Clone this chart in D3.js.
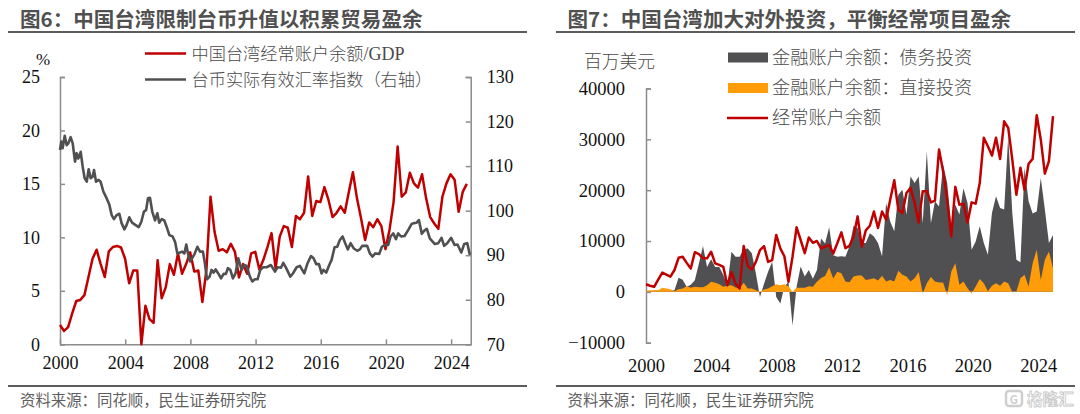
<!DOCTYPE html>
<html><head><meta charset="utf-8">
<script src="https://cdn.jsdelivr.net/npm/d3@7"></script>
<style>
html,body{margin:0;padding:0;background:#fff;}
svg{display:block;}
.num{font-family:"Liberation Serif",serif;fill:#111;}
.cn{font-family:"Noto Sans CJK SC",sans-serif;fill:#4a4a4a;font-weight:300;}
.title{font-family:"Noto Sans CJK SC",sans-serif;font-weight:700;fill:#505050;font-size:20.55px;}
.src{font-family:"Noto Sans CJK SC",sans-serif;fill:#5f5f5f;font-size:15.4px;}
</style></head><body>
<svg id="c" width="1080" height="414"></svg>
<script>
const yearTicks=[2000,2004,2008,2012,2016,2020,2024];
const leftTicks=[0,5,10,15,20,25];
const rightTicks=[70,80,90,100,110,120,130];
const flowTicks=[-10000,0,10000,20000,30000,40000];

const gdpShare=[1.8,1.25,1.6,2.9,4.05,4.15,4.6,6.3,8,8.85,7.5,6.3,8.7,9.1,9.2,9.05,8,5.7,6.9,6.9,0,3.6,2.35,2,7.85,4.3,5.35,7.5,6.5,8.5,6.6,7.5,8.6,6.8,6.9,3.95,7,13.8,10.5,8.75,8.9,8.6,9.4,8.65,6.25,7.5,6.6,8.5,8.65,7,7.9,9.1,10.4,7.1,10.05,11.05,10.9,9.1,12,11.7,12.3,15.7,12,13.4,13.3,14.7,13.5,11.9,12.3,12.9,12.3,14.25,16.1,13.65,11.8,9.75,11.4,10.95,11.7,11.05,8.9,10.7,13.3,18.5,13.8,14.2,16.05,15.05,14.65,15.9,13.65,11.9,11.3,10.8,13.8,15.05,15.9,15.4,12.4,14.25,15];

const rateYears=[2000,2000.08,2000.16,2000.29,2000.41,2000.51,2000.65,2000.78,2000.92,2001.02,2001.12,2001.27,2001.39,2001.51,2001.64,2001.76,2001.88,2002,2002.09,2002.21,2002.37,2002.49,2002.66,2002.82,2003.03,2003.17,2003.31,2003.48,2003.64,2003.78,2003.95,2004.09,2004.25,2004.42,2004.62,2004.83,2004.99,2005.15,2005.28,2005.4,2005.52,2005.66,2005.83,2005.97,2006.09,2006.24,2006.4,2006.54,2006.71,2006.91,2007.06,2007.2,2007.36,2007.5,2007.63,2007.75,2007.85,2007.98,2008.1,2008.26,2008.43,2008.59,2008.77,2008.89,2009.02,2009.18,2009.3,2009.43,2009.55,2009.71,2009.88,2010.04,2010.18,2010.3,2010.45,2010.61,2010.77,2010.94,2011.14,2011.31,2011.45,2011.65,2011.8,2011.96,2012.12,2012.29,2012.47,2012.68,2012.94,2013.19,2013.35,2013.56,2013.7,2013.88,2014.13,2014.29,2014.52,2014.72,2014.99,2015.19,2015.4,2015.56,2015.72,2015.89,2016.05,2016.17,2016.34,2016.52,2016.66,2016.85,2017.01,2017.17,2017.34,2017.5,2017.66,2017.83,2018.03,2018.24,2018.4,2018.54,2018.85,2019.01,2019.18,2019.34,2019.59,2019.75,2019.91,2020.14,2020.28,2020.45,2020.61,2020.75,2020.92,2021.14,2021.37,2021.57,2021.71,2021.88,2022.02,2022.2,2022.35,2022.51,2022.69,2023,2023.21,2023.41,2023.57,2023.76,2024,2024.21,2024.39,2024.62,2024.8,2024.99,2025.15];
const rateValues=[113.6,115.5,114,116.8,114.7,115.1,116.5,115.1,111,112.9,111.7,113.2,109.9,107.3,106.5,109.3,107.3,107.6,109.1,106.5,106.9,106.5,104.3,103.1,101.3,99,98.1,99,99.3,97.2,95.8,96.8,98.5,97.3,96.8,96.3,97.5,99.8,100.1,102.8,102.9,99.8,97.8,99.4,97.3,98.1,97.8,96.4,94.5,94.2,93,90.4,90.6,90.8,90.4,92.4,90.4,88.6,89.3,90.3,91.9,90.8,90.8,88.2,84.6,85.2,86.7,86.1,86.8,85.9,84.8,85.8,85.8,87.1,86.7,84.8,85.9,89.3,86.7,87.8,87.6,85.2,84.1,84.6,84.6,86.7,87.3,87.3,87.8,86.3,87.3,87.2,88.3,87.1,85.2,85.9,87.3,87.6,85.9,88.2,89.8,89.3,88,88,85.9,86.7,86.1,87.8,88.9,91.8,91.9,93.4,94.2,92.7,91.3,92.7,91.5,91,91.3,92.1,92.1,90.4,89.7,90.4,90.3,91.9,92.3,92.3,94.2,94.9,93.6,94.9,94.2,94.3,95.7,97,97.2,97.3,97.9,94.8,95.5,95.9,93.8,92.5,92.7,93.9,92.1,92.7,93.9,92.3,92.4,90.6,92.5,92.7,90.05];

const currentAccount=[1500,1200,1000,2400,3800,3400,3000,4300,6700,6900,5700,4600,7800,7400,6600,6600,7900,5600,5300,4900,1300,3900,1600,650,9000,5100,4400,5900,8200,9000,5900,6250,11200,8550,7000,2000,6900,12700,10200,7600,10700,9650,10000,8550,8900,9200,7550,9550,11700,8600,9050,10900,14850,8900,12100,13000,15800,12550,15800,14200,18100,21950,16150,15500,19450,20450,17500,13650,19800,19800,17600,17950,28000,23700,18150,10900,20650,17150,17350,13650,17600,17350,21400,30300,28650,26800,30300,26150,33550,32250,26000,19100,24400,20100,25200,26150,34750,29950,23250,25700,34550];
const debtInvest=[100,100,200,200,400,300,200,300,2800,2400,1000,1400,2300,5600,9000,4900,6400,4900,4900,3300,1300,7900,6900,6900,8400,8550,7600,3600,-1000,1600,3950,5900,-1000,-2300,1000,2000,-6600,1000,5000,3000,4300,2600,4300,10500,9500,12700,7200,6900,7000,6900,8950,13000,12550,9600,9600,11550,10900,9600,7000,17500,13850,11900,19100,20100,15200,22700,21400,22700,13500,27650,13500,17800,16800,25000,21400,12900,17150,15200,20400,17500,8300,9900,12900,9600,7300,15500,18800,16500,16200,30600,15500,6300,5800,24400,17800,15400,15800,22400,16200,9600,11200];
const directInvest=[200,300,300,300,800,650,500,130,500,650,1100,800,1000,900,900,1300,2000,1800,1500,1000,1200,1300,850,650,1800,650,650,300,0,450,650,1100,1500,1300,1500,1100,0,800,800,800,1100,1000,2000,2750,3100,4800,2650,3950,3680,2050,1900,3000,3200,3200,2350,2500,2700,2250,3150,2050,2350,2050,4150,3350,3000,2050,2700,3900,-300,1700,2900,2050,1850,1850,-600,4000,5650,1400,2050,700,-300,1050,2550,1700,100,1200,1700,1200,2050,1700,-100,0,2700,3350,1050,5650,8300,2350,6300,7950,4600];

const RED="#c00000",GRAY="#505052",ORANGE="#ff9c0a",AXIS="#8c8c8c";
const svg=d3.select("#c");

function styleAxis(g,size){
  g.selectAll("path").attr("stroke",AXIS).attr("stroke-width",1.5).attr("fill","none");
  g.selectAll("line").attr("stroke",AXIS).attr("stroke-width",1.5);
  g.selectAll("text").attr("class","num").attr("font-size",size).attr("font-family",null);
}
function frame(x0,x1,titleX,title){
  svg.append("text").attr("class","title").attr("x",titleX).attr("y",27).text(title);
  svg.append("line").attr("x1",x0).attr("x2",x1).attr("y1",32).attr("y2",32).attr("stroke","#5c5c5c").attr("stroke-width",2);
  svg.append("line").attr("x1",x0).attr("x2",x1).attr("y1",386).attr("y2",386).attr("stroke","#5c5c5c").attr("stroke-width",2);
  svg.append("text").attr("class","src").attr("x",titleX).attr("y",406).text("资料来源：同花顺，民生证券研究院");
}
frame(8,527,20,"图6：中国台湾限制台币升值以积累贸易盈余");
frame(556,1075,567.5,"图7：中国台湾加大对外投资，平衡经常项目盈余");

/* left chart */
const yearA=d3.scaleLinear().domain([2000,2025.2]).range([60,470.7]);
const quarterA=d3.scaleLinear().domain([0,100]).range([60,466.8]);
const yL=d3.scaleLinear().domain([0,25]).range([344.3,77]);
const yR=d3.scaleLinear().domain([70,130]).range([344.3,77]);

const axL=svg.append("g").attr("transform","translate(60,0)")
  .call(d3.axisLeft(yL).tickValues(leftTicks).tickSizeInner(-5).tickSizeOuter(-5).tickPadding(20).tickFormat(d3.format("d")));
styleAxis(axL,18);
const axR=svg.append("g").attr("transform","translate(470.7,0)")
  .call(d3.axisRight(yR).tickValues(rightTicks).tickSizeInner(-5).tickSizeOuter(-5).tickPadding(16).tickFormat(d3.format("d")));
styleAxis(axR,18);
const axB=svg.append("g").attr("transform","translate(0,344.3)")
  .call(d3.axisBottom(yearA).tickValues(yearTicks).tickSizeInner(-5).tickSizeOuter(0).tickPadding(12).tickFormat(d3.format("d")));
styleAxis(axB,18);

svg.append("path").datum(gdpShare).attr("fill","none").attr("stroke",RED).attr("stroke-width",2.5).attr("stroke-linejoin","round")
  .attr("d",d3.line().x((d,i)=>quarterA(i)).y(d=>yL(d)));
svg.append("path").datum(rateValues).attr("fill","none").attr("stroke",GRAY).attr("stroke-width",2.6).attr("stroke-linejoin","round")
  .attr("d",d3.line().x((d,i)=>yearA(rateYears[i])).y(d=>yR(d)));

svg.append("text").attr("class","num").attr("x",43).attr("y",65).attr("text-anchor","middle").attr("font-size",17).text("%");
const legL=[["中国台湾经常账户余额","/GDP",RED,53.5],["台币实际有效汇率指数（右轴）","",GRAY,79.5]];
legL.forEach(d=>{
  svg.append("line").attr("x1",145).attr("x2",186).attr("y1",d[3]).attr("y2",d[3]).attr("stroke",d[2]).attr("stroke-width",2.6);
  const t=svg.append("text").attr("class","cn").attr("x",191.5).attr("y",d[3]+6.2).attr("font-size",17.2);
  t.append("tspan").text(d[0]);
  if(d[1]) t.append("tspan").attr("font-family","Liberation Serif").attr("font-size",18).attr("font-weight",400).text(d[1]);
});

/* right chart */
const yearB=d3.scaleLinear().domain([2000,2025]).range([646,1054.5]);
const quarterB=d3.scaleLinear().domain([0,100]).range([646,1053]);
const yF=d3.scaleLinear().domain([-10000,40000]).range([342.7,88.5]);

const axF=svg.append("g").attr("transform","translate(646,0)")
  .call(d3.axisLeft(yF).tickValues(flowTicks).tickSizeInner(-5).tickSizeOuter(-5).tickPadding(21).tickFormat(d3.format("d")));
styleAxis(axF,18.5);
const axT=svg.append("g").attr("transform","translate(0,342.7)")
  .call(d3.axisBottom(yearB).tickValues(yearTicks).tickSize(0).tickPadding(16).tickFormat(d3.format("d")));
styleAxis(axT,18.5);
axT.select("path").remove();

const area=d3.area().x((d,i)=>quarterB(i)).y0(yF(0)).y1(d=>yF(d));
svg.append("path").datum(debtInvest).attr("fill",GRAY).attr("d",area);
svg.append("path").datum(directInvest).attr("fill",ORANGE).attr("d",area);
svg.append("path").datum(currentAccount).attr("fill","none").attr("stroke",RED).attr("stroke-width",2.5).attr("stroke-linejoin","round")
  .attr("d",d3.line().x((d,i)=>quarterB(i)).y(d=>yF(d)));

svg.append("text").attr("class","cn").attr("x",584).attr("y",68).attr("font-size",17.8).text("百万美元");
const legR=[["金融账户余额：债务投资",GRAY,57.5],["金融账户余额：直接投资",ORANGE,88],["经常账户余额",RED,118]];
legR.forEach((d,k)=>{
  if(k<2) svg.append("rect").attr("x",728).attr("y",d[2]-5).attr("width",40).attr("height",10).attr("fill",d[1]);
  else svg.append("line").attr("x1",727).attr("x2",768).attr("y1",d[2]).attr("y2",d[2]).attr("stroke",d[1]).attr("stroke-width",2.4);
  svg.append("text").attr("class","cn").attr("x",772).attr("y",d[2]+6.4).attr("font-size",18.2).text(d[0]);
});

/* watermark */
svg.append("rect").attr("x",1006).attr("y",391).attr("width",16).attr("height",15).attr("rx",3).attr("fill","#fff").attr("stroke","#cfcfcf").attr("stroke-width",2.5);
svg.append("text").attr("x",1009.5).attr("y",403.5).attr("font-family","Noto Sans CJK SC").attr("font-weight",700).attr("font-size",12).attr("fill","#cfcfcf").text("G");
svg.append("text").attr("x",1027).attr("y",405).attr("font-family","Noto Sans CJK SC").attr("font-weight",700).attr("font-size",15.6).attr("fill","#fff").attr("stroke","#c8c8c8").attr("stroke-width",0.8).text("格隆汇");
</script>
</body></html>
